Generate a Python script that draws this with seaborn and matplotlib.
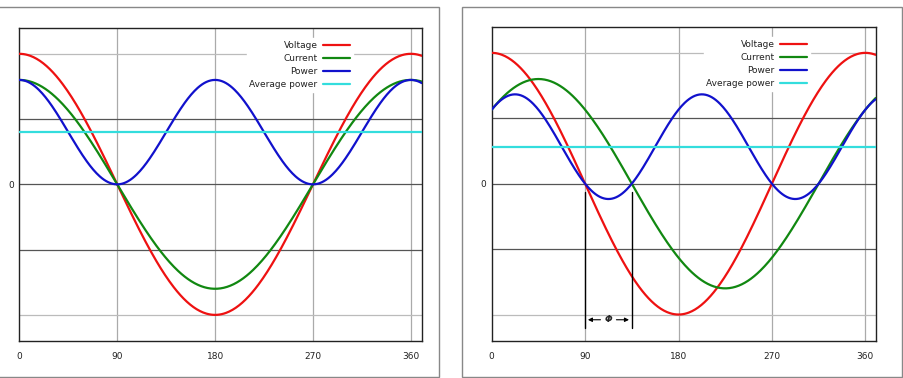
import numpy as np
import pandas as pd
import matplotlib.pyplot as plt
import seaborn as sns
from matplotlib.patches import Rectangle

# values (y axis in grid units, x in degrees)
angle_deg = np.arange(0, 371, 1)
voltage_amp = 2.0
current_amp = 1.6
phase_shift = [0, 45]          # left panel: in phase, right panel: current lags 45 deg
x_ticks = [0, 90, 180, 270, 360]
series_names = ["Voltage", "Current", "Power", "Average power"]
series_colors = ["#ee1111", "#118811", "#1111cc", "#33dddd"]

sns.set_style("white")
plt.rcParams['font.family'] = ['DejaVu Sans']

fig = plt.figure(figsize=(9.04, 3.78), dpi=100)

# the two grey frames around each plot (left one is cut off at the image edge)
fig.add_artist(Rectangle((-5 / 904, 1.5 / 378), 444 / 904, 369.5 / 378, transform=fig.transFigure,
                         fill=False, edgecolor="#888888", lw=1.0))
fig.add_artist(Rectangle((462 / 904, 1.5 / 378), 440.5 / 904, 369.5 / 378, transform=fig.transFigure,
                         fill=False, edgecolor="#888888", lw=1.0))

axes_pos = [[0.0214, 0.0979, 0.4451, 0.8288], [0.5439, 0.0987, 0.4248, 0.8307]]

for pos, phi in zip(axes_pos, phase_shift):
    ax = fig.add_axes(pos)
    rad = np.deg2rad(angle_deg)
    v = voltage_amp * np.cos(rad)
    i = current_amp * np.cos(rad - np.deg2rad(phi))
    p = v * i / 2
    avg = np.full_like(p, voltage_amp * current_amp / 4 * np.cos(np.deg2rad(phi)))
    df = pd.DataFrame({"angle": np.tile(angle_deg, 4),
                       "value": np.concatenate([v, i, p, avg]),
                       "series": np.repeat(series_names, len(angle_deg))})

    # grid
    for xv in [90, 180, 270, 360]:
        ax.axvline(xv, color="#aaaaaa", lw=0.9, zorder=0)
    for yv in [-1, 0, 1]:
        ax.axhline(yv, color="#555555", lw=0.9, zorder=0)
    for yv in [-2, 2]:
        ax.axhline(yv, color="#bbbbbb", lw=0.9, zorder=0)

    sns.lineplot(data=df, x="angle", y="value", hue="series", hue_order=series_names,
                 palette=series_colors, lw=1.6, ax=ax, legend=True, zorder=3)

    if phi:
        for xv in [90, 90 + phi]:
            ax.plot([xv, xv], [-0.12, -2.2], color="black", lw=1.0, zorder=4)
        mid = 90 + phi / 2
        ax.text(mid, -2.08, "Φ", ha="center", va="center", fontsize=6.5,
                fontweight="bold", fontstyle="italic", zorder=5)
        ax.annotate("", xy=(90, -2.08), xytext=(mid - 5, -2.08),
                    arrowprops=dict(arrowstyle="-|>", color="black", lw=0.8, mutation_scale=6))
        ax.annotate("", xy=(90 + phi, -2.08), xytext=(mid + 5, -2.08),
                    arrowprops=dict(arrowstyle="-|>", color="black", lw=0.8, mutation_scale=6))

    ax.set_xlim(0, 370)
    ax.set_ylim(-2.4, 2.4)
    ax.set_xticks(x_ticks)
    ax.set_xticklabels([str(t) for t in x_ticks])
    ax.set_yticks([-2, -1, 0, 1, 2])
    ax.set_yticklabels(["", "", "0", "", ""])
    ax.tick_params(axis="x", labelsize=6.5, length=0, pad=8, colors="#222222")
    ax.tick_params(axis="y", labelsize=6.5, length=0, pad=4, colors="#222222")
    ax.set_xlabel("")
    ax.set_ylabel("")
    for s in ax.spines.values():
        s.set_color("#222222")
        s.set_linewidth(1.0)

    leg = ax.legend(loc="upper right", bbox_to_anchor=(0.84, 0.98), markerfirst=False,
                    fontsize=6.5, frameon=True, handlelength=3.0, handletextpad=0.6,
                    labelspacing=0.45, borderpad=0.3, fancybox=False)
    leg.get_frame().set_facecolor("white")
    leg.get_frame().set_edgecolor("white")
    leg.get_frame().set_alpha(1)
    for t in leg.get_texts():
        t.set_color("#222222")

fig.savefig("out.png", dpi=100)
